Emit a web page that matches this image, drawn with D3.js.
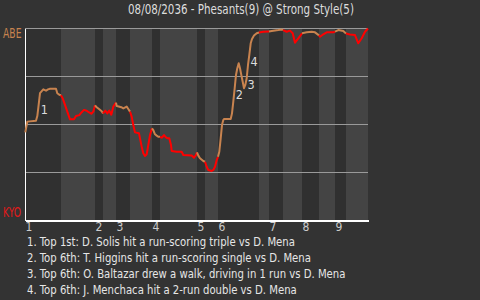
<!DOCTYPE html>
<html><head><meta charset="utf-8">
<script src="https://cdn.jsdelivr.net/npm/d3@7"></script>
<style>
html,body{margin:0;padding:0;background:#333333;}
svg{display:block;}
text{font-family:"DejaVu Sans Condensed","Roboto",sans-serif;}
</style></head>
<body>
<svg id="chart" width="480" height="300"></svg>
<script>
const title = "08/08/2036 - Phesants(9) @ Strong Style(5)";
const awayAbbr = "ABE";
const homeAbbr = "KYO";
const innings = ["1","2","3","4","5","6","7","8","9"];
// start position of each half-inning (event axis), last entry = game end
const halfStarts = [0,36,70,78,91,105,127,135,172,180,193,234,244,258,277,294,310,321,343];
// win probability series (event position, away win prob)
const wpX = [0.3,2.3,11,12.3,13.3,15,16.3,18.3,21,23,25,31,32.3,34.3,36,
  37.7,40,42.3,45,49,51,54.3,56.7,59,61.7,63.7,66.3,68.3,70,
  71.7,74.3,76.7,78,
  80.3,82.3,84.3,86.3,88.3,91,
  91.7,93.7,96.3,98.3,101.7,103.3,105,
  106.7,108.3,110,114,115,116.7,118.3,120,121.7,123.3,125,127,
  128.3,130,131.7,133.3,135,
  136.7,139,141,142.7,144.3,146,146.7,151.7,156.7,158.3,166.7,169,171,172,
  173.3,175,178.3,180,
  181.7,183.3,186.7,188.3,190,191.7,193,
  194.3,195.7,197,198.3,199,205.7,207,208.3,209.7,211,212.3,213.7,215,216.3,217.7,219,220.3,221.7,223,224.3,225.7,227,229,231.7,234,
  238.3,244,
  246.7,250,253.3,256.7,258,
  261.7,265,267.7,270,273.3,277,
  281.7,286.7,290,294,
  295,298.3,301.7,308.3,310,
  313.3,318.3,321,
  325,330,333.3,336.7,340,343];
const wpY = [0.459,0.515,0.520,0.544,0.586,0.663,0.671,0.683,0.676,0.683,0.686,0.686,0.663,0.655,0.652,
  0.636,0.602,0.567,0.527,0.527,0.544,0.549,0.564,0.576,0.572,0.564,0.556,0.567,0.600,
  0.590,0.579,0.569,0.558,
  0.572,0.558,0.572,0.551,0.593,0.614,
  0.596,0.594,0.590,0.584,0.593,0.581,0.567,
  0.541,0.497,0.459,0.454,0.428,0.384,0.350,0.336,0.345,0.393,0.445,0.480,
  0.471,0.449,0.442,0.436,0.436,
  0.431,0.445,0.433,0.428,0.428,0.393,0.362,0.358,0.358,0.341,0.338,0.327,0.341,0.355,
  0.338,0.324,0.310,0.306,
  0.280,0.263,0.258,0.263,0.280,0.315,0.332,
  0.358,0.428,0.497,0.523,0.529,0.529,0.558,0.619,0.689,0.758,0.793,0.819,0.793,0.758,0.723,0.689,0.706,0.741,0.810,0.862,0.923,0.945,0.963,0.975,0.979,
  0.983,0.984,
  0.987,0.990,0.992,0.995,0.992,
  0.983,0.989,0.975,0.926,0.949,0.975,
  0.980,0.983,0.980,0.964,
  0.957,0.970,0.980,0.980,0.984,
  0.992,0.987,0.974,
  0.969,0.966,0.923,0.949,0.983,1.0];
// scoring play markers
const markerText = ["1","2","3","4"];
const markerX = [19.3,214.3,226,229];
const markerY = [0.576,0.657,0.709,0.827];
const notes = [
  "1. Top 1st: D. Solis hit a run-scoring triple vs D. Mena",
  "2. Top 6th: T. Higgins hit a run-scoring single vs D. Mena",
  "3. Top 6th: O. Baltazar drew a walk, driving in 1 run vs D. Mena",
  "4. Top 6th: J. Menchaca hit a 2-run double vs D. Mena"
];
const gridValues = [0.25,0.5,0.75,1];

const awayColor = "#c8834f", homeColor = "#ff0000", homeLabel = "#e01a1a";
const svg = d3.select("#chart");
const x = d3.scaleLinear().domain([0,343]).range([25,368]);
const y = d3.scaleLinear().domain([0,1]).range([220.5,28.5]);

// condense text horizontally to match the narrow reference face
function squeeze(sel, k){
  sel.each(function(){
    const w = this.getComputedTextLength();
    d3.select(this).attr("textLength", w*k).attr("lengthAdjust","spacingAndGlyphs");
  });
}

// half-inning bands
const halves = d3.range(halfStarts.length-1).map(i=>({i, s:halfStarts[i], e:halfStarts[i+1]}));
svg.append("g").selectAll("rect").data(halves).join("rect")
  .attr("x", d=>x(d.s)).attr("width", d=>x(d.e)-x(d.s))
  .attr("y", y(1)).attr("height", y(0)-y(1))
  .attr("fill", d=>d.i%2===0 ? "#303030" : "#444444")
  .attr("shape-rendering","crispEdges");

// gridlines
svg.append("g").selectAll("line").data(gridValues).join("line")
  .attr("x1", x(0)).attr("x2", x(343))
  .attr("y1", d=>y(d)).attr("y2", d=>y(d))
  .attr("stroke","#9a9a9a").attr("stroke-width",1).attr("shape-rendering","crispEdges");

// axes
const inningStarts = innings.map((n,i)=>halfStarts[i*2]);
const xAxis = d3.axisBottom(x).tickValues(inningStarts).tickFormat((d,i)=>innings[i]).tickSize(0).tickPadding(2);
const gx = svg.append("g").attr("transform",`translate(0,${y(0)})`).call(xAxis);
gx.select(".domain").attr("stroke","#ffffff").attr("stroke-width",2).attr("shape-rendering","crispEdges");
gx.selectAll("text").attr("fill","#cccccc").attr("font-size",12).attr("text-anchor","start").attr("dx",0)
  .style("font-family",'"DejaVu Sans Condensed",sans-serif');
const yAxis = d3.axisLeft(y).tickValues([]).tickSizeOuter(0);
const gy = svg.append("g").attr("transform",`translate(${x(0)},0)`).call(yAxis);
gy.select(".domain").attr("stroke","#ffffff").attr("stroke-width",1.5).attr("shape-rendering","crispEdges");

// win probability line, coloured by batting side
const pts = wpX.map((v,i)=>({x:v, y:wpY[i]}));
function halfOf(v){ let k=0; for(let j=0;j<halfStarts.length-1;j++){ if(halfStarts[j] < v) k=j; } return k; }
const line = d3.line().x(d=>x(d.x)).y(d=>y(d.y));
const groups = [];
pts.forEach((p,i)=>{
  const h = halfOf(p.x);
  let g = groups[groups.length-1];
  if(!g || g.h!==h){ g = {h, pts: i>0 ? [pts[i-1]] : []}; groups.push(g); }
  g.pts.push(p);
});
svg.append("g").selectAll("path").data(groups).join("path")
  .attr("d", d=>line(d.pts)).attr("fill","none")
  .attr("stroke", d=>d.h%2===0 ? awayColor : homeColor)
  .attr("stroke-width",2).attr("stroke-linejoin","round");

// markers
svg.append("g").selectAll("text").data(markerText).join("text")
  .attr("x",(d,i)=>x(markerX[i])).attr("y",(d,i)=>y(markerY[i])+4.5)
  .attr("text-anchor","middle").attr("font-size",12.5).attr("fill","#dddddd").text(d=>d);

// team labels
const ta = svg.append("text").attr("x",3).attr("y",y(1)+9.8).attr("font-size",13.5).attr("fill",awayColor).text(awayAbbr);
const tk = svg.append("text").attr("x",3).attr("y",y(0)-4).attr("font-size",13.5).attr("fill",homeLabel).text(homeAbbr);
squeeze(ta, 0.76); squeeze(tk, 0.76);

// title
const tt = svg.append("text").attr("x",241).attr("y",13.5).attr("text-anchor","middle").attr("font-size",13.5).attr("fill","#dddddd").text(title);
squeeze(tt, 0.85);

// notes
const nt = svg.append("g").selectAll("text").data(notes).join("text")
  .attr("x",27).attr("y",(d,i)=>245.5+i*16).attr("font-size",12).attr("fill","#e6e6e6").text(d=>d);
squeeze(nt, 0.935);
</script>
</body></html>
